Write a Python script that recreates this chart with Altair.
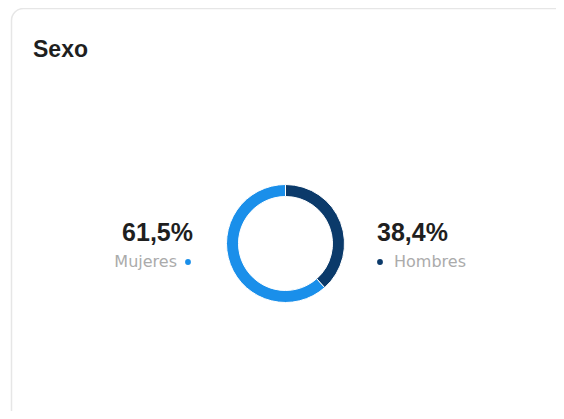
import altair as alt
import pandas as pd

# ---- data ----
categories = ["Mujeres", "Hombres"]
values = [61.5, 38.4]
stack_order = [1, 0]          # Hombres drawn first from 12 o'clock
colors = ["#1A8FEA", "#0B3A6A"]
title_text = "Sexo"

df = pd.DataFrame({"sexo": categories, "pct": values, "orden": stack_order})

W, H = 548, 403
CX, CY = 277.5, 235.5

card = alt.Chart(pd.DataFrame({"a": [0]})).mark_rect(
    fill="white", stroke="#e6e6e6", strokeWidth=1.5, cornerRadius=12
).encode(x=alt.value(3.5), x2=alt.value(W + 40), y=alt.value(0.5), y2=alt.value(H + 40))

title = alt.Chart(pd.DataFrame({"t": [title_text]})).mark_text(
    font="Liberation Sans", fontSize=23, fontWeight="bold", color="#1f1f1f",
    align="left", baseline="alphabetic"
).encode(text="t:N", x=alt.value(25), y=alt.value(49))

base = alt.Chart(df)
color = alt.Color("sexo:N", scale=alt.Scale(domain=categories, range=colors), legend=None)

donut = base.mark_arc(outerRadius=59, innerRadius=47, stroke="white", strokeWidth=1).encode(
    theta=alt.Theta("pct:Q", stack=True),
    color=color,
    order=alt.Order("orden:Q"),
    x=alt.value(CX),
    y=alt.value(CY),
)

pct_base = base.transform_calculate(
    lbl="replace(format(datum.pct, '.1f'), '.', ',') + '%'"
)

pct_m = pct_base.transform_filter(alt.datum.sexo == "Mujeres").mark_text(
    font="Liberation Sans", fontSize=25, fontWeight="bold", color="#1f1f1f",
    align="right", baseline="alphabetic"
).encode(text="lbl:N", x=alt.value(185), y=alt.value(233))

pct_h = pct_base.transform_filter(alt.datum.sexo == "Hombres").mark_text(
    font="Liberation Sans", fontSize=25, fontWeight="bold", color="#1f1f1f",
    align="left", baseline="alphabetic"
).encode(text="lbl:N", x=alt.value(369), y=alt.value(233))

lab_m = base.transform_filter(alt.datum.sexo == "Mujeres").mark_text(
    font="DejaVu Sans", fontSize=16, color="#ababab",
    align="right", baseline="alphabetic"
).encode(text="sexo:N", x=alt.value(169), y=alt.value(259))

lab_h = base.transform_filter(alt.datum.sexo == "Hombres").mark_text(
    font="DejaVu Sans", fontSize=16, color="#ababab",
    align="left", baseline="alphabetic"
).encode(text="sexo:N", x=alt.value(386), y=alt.value(259))

dot_m = base.transform_filter(alt.datum.sexo == "Mujeres").mark_circle(size=34, opacity=1).encode(
    color=color, x=alt.value(180), y=alt.value(254)
)
dot_h = base.transform_filter(alt.datum.sexo == "Hombres").mark_circle(size=34, opacity=1).encode(
    color=color, x=alt.value(372), y=alt.value(254)
)

chart = alt.layer(card, title, donut, pct_m, pct_h, lab_m, lab_h, dot_m, dot_h).properties(
    width=W, height=H, padding=0, autosize=alt.AutoSizeParams(type="none")
).configure_view(stroke=None)

chart.save("out.html", embed_options={"renderer": "svg", "actions": False})
